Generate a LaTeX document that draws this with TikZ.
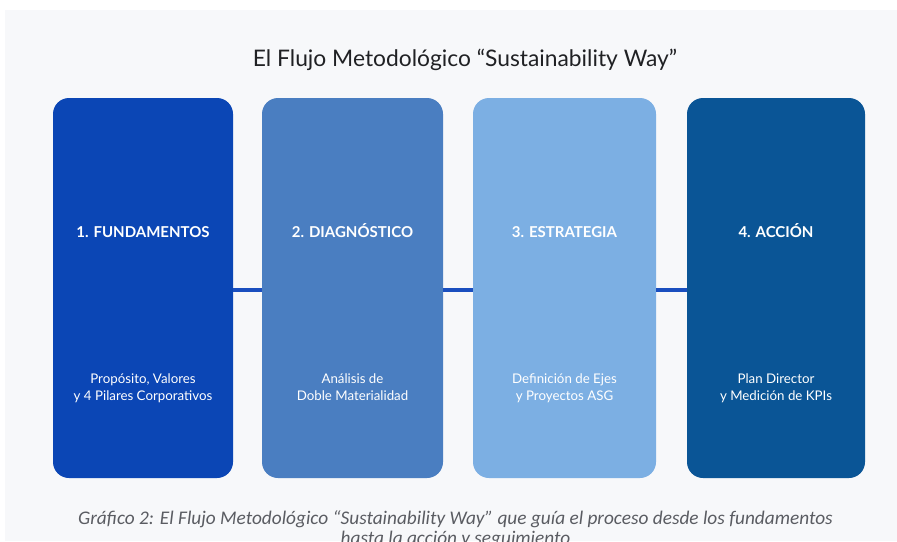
\documentclass[tikz,border=0pt]{standalone}
\usepackage{fontspec}
\setmainfont{Lato}
\newfontfamily\capfont{Carlito}
\definecolor{bgpanel}{HTML}{F7F8FA}
\definecolor{cA}{HTML}{0B46B5}
\definecolor{cB}{HTML}{4A7EC1}
\definecolor{cC}{HTML}{7CAFE3}
\definecolor{cD}{HTML}{0A5596}
\definecolor{conn}{HTML}{1A4FBF}
\definecolor{titlec}{HTML}{202124}
\definecolor{capc}{HTML}{5A5C62}
\begin{document}
\begin{tikzpicture}[x=1pt,y=-1pt,
  stagebox/.style={rectangle,rounded corners=16pt,minimum width=#1,minimum height=380pt,inner sep=0pt,draw=none},
  headtxt/.style={text=white,font=\bfseries\fontsize{15}{18}\selectfont,inner sep=0pt,anchor=base},
  subtxt/.style={text=white,font=\fontsize{13.3}{17.5}\selectfont,align=center,inner sep=0pt,anchor=base},
  connline/.style={draw=conn,line width=3.5pt}]
\useasboundingbox (0,0) rectangle (897,541);
\fill[white] (0,0) rectangle (897,541);
\fill[bgpanel] (5,10) rectangle (897,541);
\node[anchor=base,inner sep=0pt] (title) at (465,66) {\fontsize{22.8}{26}\selectfont\color{titlec}El Flujo Metodológico “Sustainability Way”};
\node[stagebox=180pt,fill=cA] (b1) at (143,288) {};
\node[stagebox=181pt,fill=cB] (b2) at (352.5,288) {};
\node[stagebox=183pt,fill=cC] (b3) at (564.5,288) {};
\node[stagebox=178pt,fill=cD] (b4) at (776,288) {};
\draw[connline] ([yshift=-2pt]b1.east) -- ([yshift=-2pt]b2.west);
\draw[connline] ([yshift=-2pt]b2.east) -- ([yshift=-2pt]b3.west);
\draw[connline] ([yshift=-2pt]b3.east) -- ([yshift=-2pt]b4.west);
\node[headtxt] (h1) at (143,237) {1. FUNDAMENTOS};
\node[headtxt] (h2) at (352.5,237) {2. DIAGNÓSTICO};
\node[headtxt] (h3) at (564.5,237) {3. ESTRATEGIA};
\node[headtxt] (h4) at (776,237) {4. ACCIÓN};
\node[subtxt] (s1) at (143,400.5) {Propósito, Valores\\y 4 Pilares Corporativos};
\node[subtxt] (s2) at (352.5,400.5) {Análisis de\\Doble Materialidad};
\node[subtxt] (s3) at (564.5,400.5) {Definición de Ejes\\y Proyectos ASG};
\node[subtxt] (s4) at (776,400.5) {Plan Director\\y Medición de KPIs};
\node[text=capc,font=\capfont\itshape\fontsize{19.3}{20}\selectfont,align=center,inner sep=0pt,anchor=base] (cap) at (455.5,544) {Gráfico 2: El Flujo Metodológico “Sustainability Way” que guía el proceso desde los fundamentos\\hasta la acción y seguimiento};
\end{tikzpicture}
\end{document}
